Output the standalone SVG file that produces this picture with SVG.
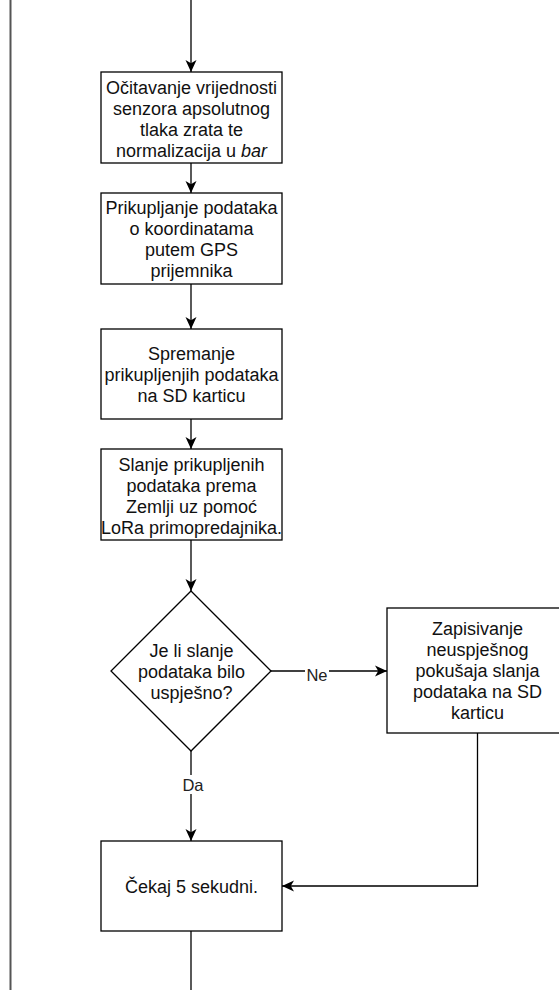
<svg xmlns="http://www.w3.org/2000/svg" width="559" height="990" viewBox="0 0 559 990">
<style>
.box{fill:#fff;stroke:#000;stroke-width:1.3}
.t{font-family:"Liberation Sans",Arial,sans-serif;font-size:18px;fill:#111;text-anchor:middle}
.lbl{font-family:"Liberation Sans",Arial,sans-serif;font-size:16.5px;fill:#222;text-anchor:middle}
.c{fill:none;stroke:#000;stroke-width:1.3}
</style>
<defs>
<marker id="arr" markerUnits="userSpaceOnUse" markerWidth="14" markerHeight="12" refX="12" refY="6" orient="auto">
<path d="M0,0.5 L12,6 L0,11.5 L3.2,6 z" fill="#000"/>
</marker>
</defs>
<line x1="10.5" y1="0" x2="10.5" y2="990" stroke="#555" stroke-width="2"/>
<g id="connectors">
<line class="c" x1="191" y1="0" x2="191" y2="72" marker-end="url(#arr)"/>
<line class="c" x1="191" y1="163" x2="191" y2="193" marker-end="url(#arr)"/>
<line class="c" x1="191" y1="284" x2="191" y2="329" marker-end="url(#arr)"/>
<line class="c" x1="191" y1="419" x2="191" y2="449" marker-end="url(#arr)"/>
<line class="c" x1="191" y1="540" x2="191" y2="591" marker-end="url(#arr)"/>
<line class="c" x1="271" y1="671" x2="387" y2="671" marker-end="url(#arr)"/>
<rect x="305" y="664" width="24" height="16" fill="#fff"/>
<text class="lbl" x="317" y="681">Ne</text>
<line class="c" x1="191" y1="751" x2="191" y2="841" marker-end="url(#arr)"/>
<rect x="180" y="775" width="26" height="19" fill="#fff"/>
<text class="lbl" x="193" y="791">Da</text>
<polyline class="c" points="477.5,733 477.5,886 282,886" marker-end="url(#arr)"/>
<line class="c" x1="191" y1="931" x2="191" y2="990"/>
</g>
<g id="n1">
<rect class="box" x="101" y="72" width="181" height="91"/>
<text class="t" x="191.5" y="93.5">Očitavanje vrijednosti</text>
<text class="t" x="191.5" y="114.5">senzora apsolutnog</text>
<text class="t" x="191.5" y="135.5">tlaka zrata te</text>
<text class="t" x="191.5" y="156.5">normalizacija u <tspan font-style="italic">bar</tspan></text>
</g>
<g id="n2">
<rect class="box" x="101" y="193" width="181" height="91"/>
<text class="t" x="191.5" y="213.5">Prikupljanje podataka</text>
<text class="t" x="191.5" y="234.5">o koordinatama</text>
<text class="t" x="191.5" y="255.5">putem GPS</text>
<text class="t" x="191.5" y="276.5">prijemnika</text>
</g>
<g id="n3">
<rect class="box" x="101" y="329" width="181" height="90"/>
<text class="t" x="191.5" y="359.5">Spremanje</text>
<text class="t" x="191.5" y="380.5">prikupljenjih podataka</text>
<text class="t" x="191.5" y="401.5">na SD karticu</text>
</g>
<g id="n4">
<rect class="box" x="101" y="449" width="181" height="91"/>
<text class="t" x="191.5" y="471">Slanje prikupljenih</text>
<text class="t" x="191.5" y="492">podataka prema</text>
<text class="t" x="191.5" y="513">Zemlji uz pomoć</text>
<text class="t" x="191.5" y="534">LoRa primopredajnika.</text>
</g>
<g id="n5">
<polygon class="box" points="191,591 271,671 191,751 111,671"/>
<text class="t" x="191.5" y="657">Je li slanje</text>
<text class="t" x="191.5" y="678">podataka bilo</text>
<text class="t" x="191.5" y="699">uspješno?</text>
</g>
<g id="n6">
<rect class="box" x="387" y="608" width="181" height="125"/>
<text class="t" x="477.5" y="635">Zapisivanje</text>
<text class="t" x="477.5" y="656">neuspješnog</text>
<text class="t" x="477.5" y="677">pokušaja slanja</text>
<text class="t" x="477.5" y="698">podataka na SD</text>
<text class="t" x="477.5" y="719">karticu</text>
</g>
<g id="n7">
<rect class="box" x="101" y="841" width="181" height="90"/>
<text class="t" x="191.5" y="892.5">Čekaj 5 sekudni.</text>
</g>
</svg>
